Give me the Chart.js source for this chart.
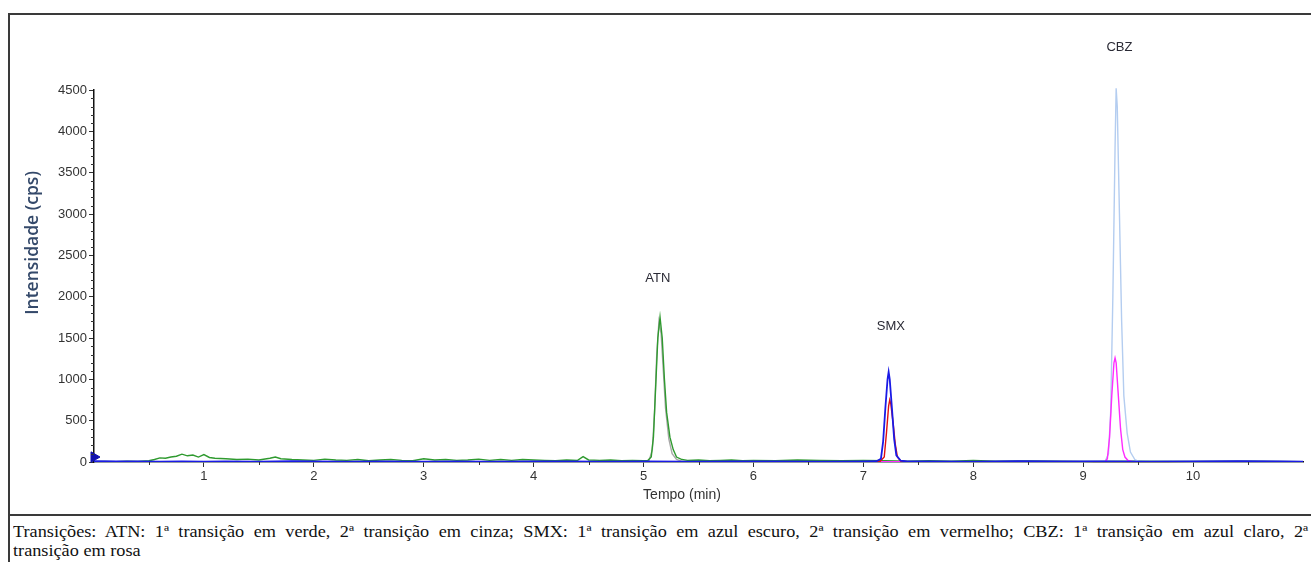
<!DOCTYPE html>
<html lang="pt">
<head>
<meta charset="utf-8">
<script src="https://cdn.jsdelivr.net/npm/chart.js@4"></script>
<style>
    body { margin: 0; width: 1311px; height: 562px; overflow: hidden; background: #fff; position: relative; }
    .linha { position: absolute; background: #3a3a3a; }
    #grafico { position: absolute; left: 0; top: 0; }
    #legenda {
        position: absolute; left: 13px; top: 522px; width: 1136px;
        transform: scaleX(1.14); transform-origin: 0 0;
        font-family: "Liberation Serif", "Times New Roman", serif; font-size: 16px; line-height: 19px; color: #111;
    }
    #legenda .l1 { text-align: justify; text-align-last: justify; }
</style>
</head>
<body>
<div class="linha" style="left:8px; top:13px; width:1320px; height:1.5px;"></div>
<div class="linha" style="left:8px; top:13px; width:1.5px; height:560px;"></div>
<div class="linha" style="left:8px; top:514px; width:1320px; height:1.5px;"></div>
<canvas id="grafico" width="1311" height="512"></canvas>
<div id="legenda">
    <div class="l1">Transições: ATN: 1ª transição em verde, 2ª transição em cinza; SMX: 1ª transição em azul escuro, 2ª transição em vermelho; CBZ: 1ª transição em azul claro, 2ª</div>
    <div>transição em rosa</div>
</div>
<script>
// ---------------- Données (temps en min, intensité en cps) ---------------- //
const atn1T = [0, 0.1, 0.2, 0.3, 0.4, 0.5, 0.55, 0.6, 0.65, 0.7, 0.75, 0.8, 0.85, 0.9, 0.95, 1.0, 1.05, 1.1, 1.2, 1.3, 1.4, 1.5, 1.6, 1.65, 1.7, 1.8, 1.9, 2.0, 2.1, 2.2, 2.3, 2.4, 2.5, 2.6, 2.7, 2.8, 2.9, 3.0, 3.1, 3.2, 3.3, 3.4, 3.5, 3.6, 3.7, 3.8, 3.9, 4.0, 4.1, 4.2, 4.3, 4.4, 4.45, 4.5, 4.6, 4.7, 4.8, 4.9, 5.0, 5.04, 5.07, 5.09, 5.11, 5.13, 5.15, 5.17, 5.19, 5.21, 5.24, 5.27, 5.3, 5.35, 5.4, 5.5, 5.6, 5.7, 5.8, 5.9, 6.0, 6.2, 6.4, 6.6, 6.8, 7.0, 7.2, 7.4, 7.6, 7.8, 8.0, 8.2, 8.5, 9.0, 9.5, 10.0, 10.5, 11.0];
const atn1Y = [5, 8, 5, 10, 8, 15, 30, 50, 45, 60, 70, 95, 75, 85, 60, 90, 55, 45, 40, 30, 35, 25, 45, 60, 40, 30, 25, 20, 35, 25, 20, 30, 15, 25, 30, 20, 15, 40, 25, 30, 20, 25, 35, 20, 30, 20, 30, 25, 20, 15, 25, 20, 65, 25, 20, 25, 15, 20, 15, 20, 60, 300, 900, 1500, 1753, 1500, 1000, 600, 300, 150, 60, 30, 20, 25, 15, 20, 25, 15, 20, 15, 25, 20, 15, 20, 15, 10, 15, 10, 20, 10, 12, 8, 10, 8, 10, 5];

const atn2T = [0, 1, 2, 3, 4, 5.0, 5.05, 5.08, 5.1, 5.12, 5.14, 5.16, 5.18, 5.2, 5.23, 5.26, 5.3, 5.35, 6, 7, 8, 9, 10, 11];
const atn2Y = [3, 4, 3, 5, 4, 5, 15, 150, 600, 1300, 1700, 1550, 1100, 650, 280, 100, 30, 8, 4, 3, 5, 3, 4, 3];

const smx1T = [0, 0.2, 0.4, 0.6, 0.8, 1.0, 1.2, 1.5, 1.8, 2.0, 2.3, 2.6, 3.0, 3.3, 3.6, 4.0, 4.3, 4.6, 5.0, 5.4, 5.8, 6.2, 6.6, 7.0, 7.12, 7.16, 7.18, 7.2, 7.22, 7.23, 7.24, 7.26, 7.28, 7.3, 7.34, 7.4, 7.6, 8.0, 8.4, 8.8, 9.2, 9.6, 10.0, 10.4, 10.8, 11.0];
const smx1Y = [10, 6, 8, 5, 7, 4, 8, 5, 9, 6, 4, 8, 5, 7, 4, 8, 6, 5, 7, 4, 8, 6, 5, 7, 10, 40, 250, 650, 1000, 1090, 1000, 650, 280, 80, 15, 6, 8, 5, 9, 6, 8, 5, 7, 9, 6, 5];

const smx2T = [0, 2, 4, 6, 7.0, 7.15, 7.19, 7.21, 7.23, 7.24, 7.25, 7.27, 7.29, 7.31, 7.34, 7.4, 8, 9, 10, 11];
const smx2Y = [3, 4, 3, 4, 3, 5, 60, 350, 680, 750, 700, 480, 220, 60, 10, 4, 3, 4, 3, 3];

const cbz1T = [0, 2, 4, 6, 8, 9.0, 9.2, 9.23, 9.25, 9.27, 9.29, 9.3, 9.31, 9.33, 9.35, 9.37, 9.4, 9.43, 9.47, 9.5, 10, 11];
const cbz1Y = [4, 5, 4, 5, 4, 5, 10, 100, 600, 2000, 3800, 4520, 4300, 3000, 1700, 800, 350, 120, 30, 10, 5, 4];

const cbz2T = [0, 2, 4, 6, 8, 9.0, 9.2, 9.22, 9.24, 9.26, 9.28, 9.29, 9.3, 9.32, 9.34, 9.36, 9.38, 9.41, 9.45, 10, 11];
const cbz2Y = [3, 4, 3, 4, 3, 4, 5, 40, 300, 800, 1200, 1258, 1200, 800, 400, 150, 60, 15, 5, 4, 3];

const picNoms = ['ATN', 'SMX', 'CBZ'];
const picTemps = [5.13, 7.25, 9.33];
const picHauteurs = [2226, 1645, 5020];

// ----------------------------------------------------------------------- //
const police = '"Liberation Sans", Arial, sans-serif';

function serie(t, y) {
    return t.map((v, i) => ({ x: v, y: y[i] }));
}

// Petites graduations (0,5 min et 100 cps) + noms des pics + titres des axes
const decorations = {
    id: 'decorations',
    afterDraw(chart) {
        const ctx = chart.ctx;
        const x = chart.scales.x;
        const y = chart.scales.y;
        ctx.save();
        ctx.strokeStyle = '#333';
        ctx.lineWidth = 1;
        ctx.beginPath();
        for (let v = 0.5; v < 11; v += 1) {
            const px = Math.round(x.getPixelForValue(v)) + 0.5;
            ctx.moveTo(px, y.bottom);
            ctx.lineTo(px, y.bottom + 3);
        }
        for (let v = 100; v < 4500; v += 100) {
            if (v % 500 === 0) continue;
            const py = Math.round(y.getPixelForValue(v)) + 0.5;
            ctx.moveTo(x.left - 3, py);
            ctx.lineTo(x.left, py);
        }
        ctx.stroke();

        ctx.fillStyle = '#2a2a35';
        ctx.font = '13px ' + police;
        ctx.textAlign = 'center';
        ctx.textBaseline = 'middle';
        picNoms.forEach((nom, i) => {
            ctx.fillText(nom, x.getPixelForValue(picTemps[i]), y.getPixelForValue(picHauteurs[i]));
        });

        ctx.fillStyle = '#333';
        ctx.font = '14px ' + police;
        ctx.fillText('Tempo (min)', x.getPixelForValue(5.35), 495);

        // titre de l'axe Y
        ctx.translate(33, y.getPixelForValue(2650));
        ctx.rotate(-Math.PI / 2);
        ctx.fillStyle = '#34496a';
        ctx.font = '600 17.5px "Open Sans", sans-serif';
        ctx.fillText('Intensidade (cps)', 0, 0);
        ctx.restore();
    }
};

new Chart(document.getElementById('grafico'), {
    type: 'line',
    data: {
        datasets: [
            { data: serie(smx1T, smx1Y), borderColor: '#1a1ae6', borderWidth: 1.8, order: 0 },
            { data: serie(smx2T, smx2Y), borderColor: '#e01010', order: 1 },
            { data: serie(cbz2T, cbz2Y), borderColor: '#ff2cff', order: 2 },
            { data: serie(cbz1T, cbz1Y), borderColor: '#b4cdf0', order: 3, clip: false },
            { data: serie(atn1T, atn1Y), borderColor: '#2f9a2f', order: 4 },
            { data: serie(atn2T, atn2Y), borderColor: '#a8a8a8', order: 5 },
            {
                data: [{ x: 0, y: 60 }], showLine: false, order: -1, clip: false,
                pointStyle: 'triangle', rotation: 90, pointRadius: 6,
                backgroundColor: '#1010b0', borderColor: '#1010b0'
            }
        ]
    },
    options: {
        responsive: false,
        animation: false,
        layout: { padding: { top: 90, right: 8, left: 0, bottom: 0 } },
        plugins: { legend: { display: false }, tooltip: { enabled: false } },
        elements: {
            point: { radius: 0 },
            line: { tension: 0, borderWidth: 1.4 }
        },
        scales: {
            x: {
                type: 'linear', min: 0, max: 11,
                afterFit: s => { s.height = 50; },
                border: { color: '#111', width: 1.5 },
                grid: {
                    drawOnChartArea: false, tickLength: 5,
                    tickColor: c => (c.tick && (c.tick.value === 0 || c.tick.value === 11)) ? 'rgba(0,0,0,0)' : '#333'
                },
                ticks: {
                    stepSize: 1, autoSkip: false, maxRotation: 0, padding: 2,
                    color: '#333', font: { family: police, size: 13 },
                    callback: v => (v === 0 || v === 11) ? '' : String(v)
                }
            },
            y: {
                min: 0, max: 4500,
                afterFit: s => { s.width = 94; },
                border: { color: '#111', width: 1.5 },
                grid: { drawOnChartArea: false, tickLength: 5, tickColor: '#333' },
                ticks: {
                    stepSize: 500, padding: 2, color: '#333', font: { family: police, size: 13 },
                    callback: v => String(v)
                }
            }
        }
    },
    plugins: [decorations]
});
</script>
</body>
</html>
